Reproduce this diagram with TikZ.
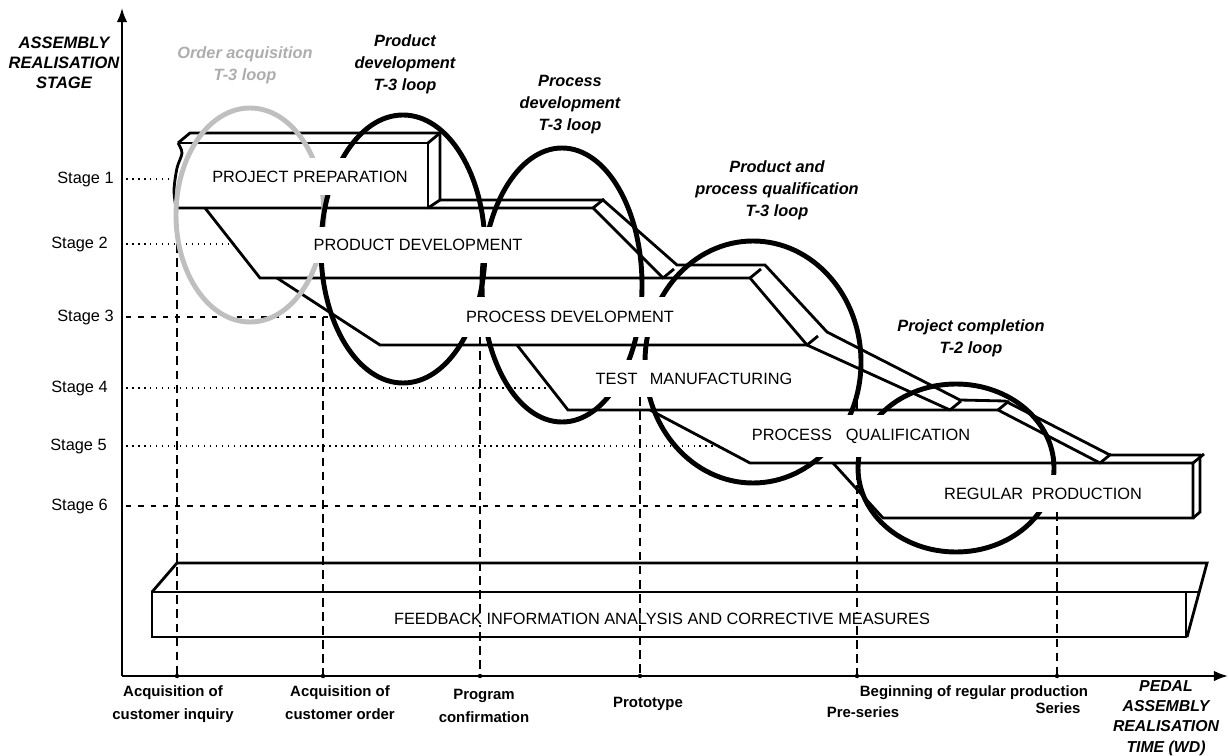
\documentclass[tikz,border=0pt]{standalone}
\usepackage{fontspec}
\setmainfont{Liberation Sans}
\usetikzlibrary{arrows.meta}
\tikzset{>={Latex[length=8pt,width=6pt]}}

\tikzset{
  axis/.style={line width=1.2pt, ->},
  slab/.style={line width=1.6pt, line join=miter},
  ring/.style={line width=2.8pt},
  grayring/.style={ring, draw=black!25},
  level/.style={line width=0.9pt, dash pattern=on 0.9pt off 2.5pt},
  levelb/.style={line width=0.6pt, dash pattern=on 3pt off 4pt},
  guide/.style={line width=1.6pt, dash pattern=on 5pt off 3pt},
  stagebox/.style={fill=white, inner sep=0pt, font=\fontsize{9.3}{11}\selectfont},
  stagelbl/.style={anchor=east, inner sep=0pt, font=\fontsize{9.3}{11}\selectfont},
  looplbl/.style={align=center, inner sep=0pt, font=\fontsize{9.3}{12.4}\selectfont\bfseries\itshape},
  axislbl/.style={align=center, inner sep=0pt, font=\fontsize{9.4}{11.4}\selectfont\bfseries\itshape},
  milestone/.style={align=center, inner sep=0pt, font=\fontsize{8.5}{13}\selectfont\bfseries},
}

\begin{document}
\begin{tikzpicture}[x=0.02cm, y=-0.02cm]
  \useasboundingbox (0,0) rectangle (1229,756);

  % axes
  \coordinate (origin) at (122,676);
  \coordinate (ytip) at (122,8);
  \coordinate (xtip) at (1228,676);
  \draw[axis] (origin) -- (ytip);
  \draw[axis] (origin) -- (xtip);
  \node[axislbl] (stageaxis) at (64,63) {ASSEMBLY\\REALISATION\\STAGE};
  \node[axislbl, font=\fontsize{9}{11.5}\selectfont\bfseries\itshape] (timeaxis) at (1166,718) {PEDAL\\ASSEMBLY\\REALISATION\\TIME (WD)};

  % stage levels
  \foreach \n/\y/\lx/\ex/\sty in {1/179/114/175/level, 2/244/108/234/level, 3/317/114/335/levelb,
                                   4/388/108/548/level, 5/446/107/722/level, 6/506/108/860/levelb} {
    \node[stagelbl] (stage\n) at (\lx,\y) {Stage \n};
    \draw[\sty] (126,\y) -- (\ex,\y);
  }

  % milestone guides down to the time axis
  \foreach \x/\y [count=\i] in {177/244, 323/317, 480/337, 640/397, 857/387, 1057/512} {
    \coordinate (m\i) at (\x,676);
    \draw[guide] (\x,\y) -- (m\i);
    \fill (m\i) circle (2.2);
  }

  % project preparation block
  \draw[slab] (178,143) -- (428,143) -- (428,208);
  \draw[slab] (178,143) -- (190,133) -- (440,133) -- (440,200) -- (428,208);
  \draw[slab] (428,143) -- (440,133);
  \draw[slab] plot[smooth] coordinates {(178,143) (182,153) (177,168) (174,190) (176,208)};

  % staircase: front edge, back edge and folds
  \draw[slab] (176,208) -- (593,208) -- (663,278) -- (750,278) -- (807,345) -- (950,410)
    -- (998,410) -- (1100,463) -- (1193,463) -- (1193,518) -- (883,518) -- (833,463);
  \draw[slab] (440,200) -- (603,200) -- (677,265) -- (765,265) -- (827,332) -- (960,400)
    -- (1005,401) -- (1110,455) -- (1200,455) -- (1200,512) -- (1193,518);
  \foreach \a/\b in {593/208, 663/278, 750/278, 807/345, 950/410, 998/410, 1100/463, 1193/463}
    \draw[slab] (\a,\b) -- ++(11,-9);

  % lower edges of the stages
  \draw[slab] (205,208) -- (260,278) -- (663,278);
  \draw[slab] (277,278) -- (380,345) -- (807,345);
  \draw[slab] (517,345) -- (568,410) -- (950,410);
  \draw[slab] (650,410) -- (750,463) -- (1100,463);

  % feedback bar
  \draw[slab] (152,592) rectangle (1186,637);
  \draw[slab] (152,592) -- (177,563) -- (1207,563) -- (1187,637);
  \draw[slab] (1186,592) -- (1199,592);
  \node[stagebox] (feedback) at (662,619) {FEEDBACK INFORMATION ANALYSIS AND CORRECTIVE MEASURES};

  % loops
  \draw[grayring] (250,215) ellipse[x radius=74, y radius=107];
  \foreach \cx/\cy/\rx/\ry in {403/249/82/134, 562/285/80/137, 753/362/108/121, 956/468/98/84}
    \draw[ring] (\cx,\cy) ellipse[x radius=\rx, y radius=\ry];

  % stage names (white boxes cover the loops behind them)
  \node[stagebox, minimum width=4.2cm, minimum height=0.74cm] (prep) at (310,176.5) {PROJECT PREPARATION};
  \node[stagebox, minimum width=4.36cm, minimum height=0.72cm] (proddev) at (418,245) {PRODUCT DEVELOPMENT};
  \node[stagebox, minimum width=4.4cm, minimum height=0.8cm] (procdev) at (570,317) {PROCESS DEVELOPMENT};
  \node[stagebox, minimum width=4.2cm, minimum height=0.74cm] (testman) at (694,378.5) {TEST\hspace{7pt}MANUFACTURING};
  \node[stagebox, minimum width=4.72cm, minimum height=0.84cm] (procqual) at (861,436) {PROCESS\hspace{8pt}QUALIFICATION};
  \node[stagebox, minimum width=4.2cm, minimum height=0.74cm] (regprod) at (1043,493.5) {REGULAR\hspace{5pt}PRODUCTION};

  % loop names
  \node[looplbl, text=black!32] (acqlbl) at (245,65) {Order acquisition\\T-3 loop};
  \node[looplbl] (prodlbl) at (405,64.5) {Product\\development\\T-3 loop};
  \node[looplbl] (proclbl) at (570,104.5) {Process\\development\\T-3 loop};
  \node[looplbl] (quallbl) at (777,190) {Product and\\process qualification\\T-3 loop};
  \node[looplbl] (compllbl) at (971,338) {Project completion\\T-2 loop};

  % milestones
  \node[milestone] (inquiry) at (173,704) {Acquisition of\\customer inquiry};
  \node[milestone] (order) at (340,703) {Acquisition of\\customer order};
  \node[milestone] (program) at (484,706) {Program\\confirmation};
  \node[milestone] (prototype) at (648,704) {Prototype};
  \node[milestone] (beginning) at (974,693) {Beginning of regular production};
  \node[milestone] (preseries) at (863,712) {Pre-series};
  \node[milestone] (series) at (1058,708) {Series};
\end{tikzpicture}
\end{document}
